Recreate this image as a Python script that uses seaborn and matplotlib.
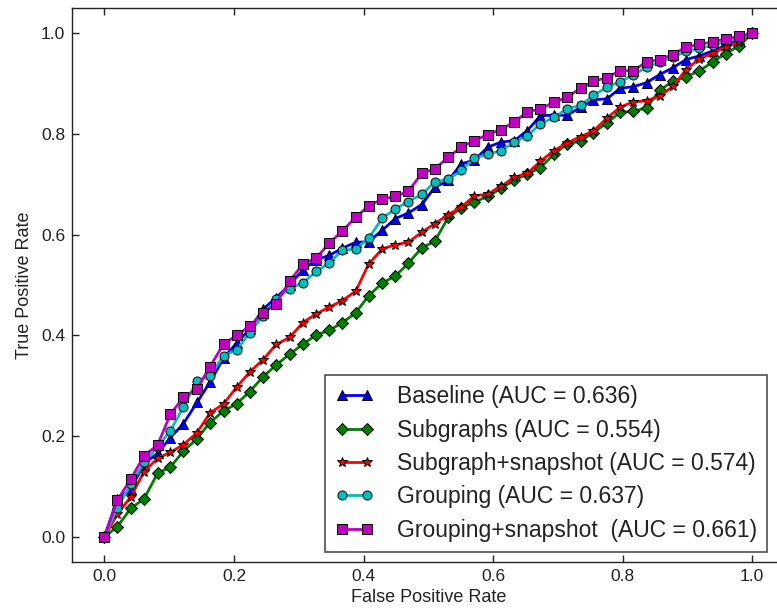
import matplotlib
matplotlib.use('Agg')
import matplotlib.pyplot as plt
import seaborn as sns

# false positive rate (shared by all curves)
fpr = [0.000, 0.020, 0.041, 0.061, 0.082, 0.102, 0.122, 0.143, 0.163, 0.184,
       0.204, 0.224, 0.245, 0.265, 0.286, 0.306, 0.327, 0.347, 0.367, 0.388,
       0.408, 0.429, 0.449, 0.469, 0.490, 0.510, 0.531, 0.551, 0.571, 0.592,
       0.612, 0.633, 0.653, 0.673, 0.694, 0.714, 0.735, 0.755, 0.776, 0.796,
       0.816, 0.837, 0.857, 0.878, 0.898, 0.918, 0.939, 0.959, 0.980, 1.000]

tpr_baseline = [0.000, 0.075, 0.095, 0.145, 0.166, 0.197, 0.225, 0.267, 0.307, 0.355,
                0.385, 0.412, 0.452, 0.475, 0.500, 0.530, 0.550, 0.559, 0.573, 0.585,
                0.586, 0.609, 0.632, 0.643, 0.660, 0.694, 0.708, 0.741, 0.748, 0.774,
                0.784, 0.787, 0.807, 0.836, 0.838, 0.837, 0.853, 0.868, 0.870, 0.891,
                0.894, 0.902, 0.918, 0.932, 0.948, 0.955, 0.965, 0.976, 0.988, 1.000]

tpr_subgraphs = [0.000, 0.020, 0.057, 0.075, 0.126, 0.139, 0.170, 0.195, 0.227, 0.250,
                 0.264, 0.288, 0.318, 0.341, 0.363, 0.382, 0.401, 0.410, 0.425, 0.445,
                 0.479, 0.504, 0.518, 0.543, 0.574, 0.587, 0.635, 0.653, 0.665, 0.676,
                 0.692, 0.708, 0.721, 0.733, 0.760, 0.780, 0.786, 0.803, 0.822, 0.843,
                 0.845, 0.852, 0.887, 0.905, 0.914, 0.925, 0.943, 0.960, 0.975, 1.000]

tpr_sub_snap = [0.000, 0.045, 0.080, 0.129, 0.156, 0.168, 0.183, 0.207, 0.246, 0.264,
                0.297, 0.327, 0.352, 0.382, 0.396, 0.425, 0.443, 0.456, 0.469, 0.488,
                0.542, 0.572, 0.580, 0.585, 0.605, 0.622, 0.640, 0.655, 0.677, 0.681,
                0.696, 0.714, 0.722, 0.746, 0.767, 0.782, 0.795, 0.806, 0.832, 0.853,
                0.864, 0.866, 0.875, 0.895, 0.928, 0.949, 0.961, 0.973, 0.983, 1.000]

tpr_grouping = [0.000, 0.058, 0.105, 0.148, 0.178, 0.211, 0.258, 0.309, 0.320, 0.360,
                0.371, 0.405, 0.439, 0.472, 0.493, 0.504, 0.527, 0.544, 0.569, 0.572,
                0.593, 0.633, 0.651, 0.666, 0.680, 0.705, 0.710, 0.728, 0.752, 0.760,
                0.767, 0.784, 0.797, 0.820, 0.833, 0.850, 0.857, 0.877, 0.893, 0.904,
                0.917, 0.933, 0.943, 0.953, 0.964, 0.970, 0.976, 0.984, 0.990, 1.000]

tpr_group_snap = [0.000, 0.073, 0.115, 0.161, 0.182, 0.244, 0.277, 0.294, 0.338, 0.383,
                  0.400, 0.418, 0.444, 0.463, 0.508, 0.541, 0.554, 0.583, 0.607, 0.635,
                  0.657, 0.671, 0.676, 0.686, 0.722, 0.731, 0.754, 0.774, 0.787, 0.799,
                  0.809, 0.824, 0.844, 0.850, 0.863, 0.873, 0.891, 0.905, 0.912, 0.926,
                  0.926, 0.943, 0.948, 0.958, 0.973, 0.978, 0.983, 0.989, 0.994, 1.000]

labels = ['Baseline (AUC = 0.636)',
          'Subgraphs (AUC = 0.554)',
          'Subgraph+snapshot (AUC = 0.574)',
          'Grouping (AUC = 0.637)',
          'Grouping+snapshot  (AUC = 0.661)']

curves = [tpr_baseline, tpr_subgraphs, tpr_sub_snap, tpr_grouping, tpr_group_snap]
colors = ['#0000ff', '#007f00', '#ff0000', '#00bfbf', '#bf00bf']
markers = ['^', 'D', '*', 'o', 's']
msizes = [7, 6, 7, 6.5, 7]

sns.set_style('ticks')
plt.rcParams['font.family'] = ['Liberation Sans', 'DejaVu Sans']

fig = plt.figure(figsize=(7.77, 6.16), dpi=100)
ax = fig.add_axes([0.0927, 0.0877, 0.917, 0.899])

for tpr, lab, c, m, ms in zip(curves, labels, colors, markers, msizes):
    sns.lineplot(x=fpr, y=tpr, ax=ax, color=c, marker=m, markersize=ms,
                 markeredgecolor='black', markeredgewidth=0.7, linewidth=2,
                 label=lab, sort=False, estimator=None)

ax.set_xlim(-0.05, 1.05)
ax.set_ylim(-0.05, 1.05)
ax.set_xticks([0.0, 0.2, 0.4, 0.6, 0.8, 1.0])
ax.set_yticks([0.0, 0.2, 0.4, 0.6, 0.8, 1.0])
ax.tick_params(direction='in', top=True, right=True, length=5, width=1,
               labelsize=12.5, pad=5, colors='#222222')
for sp in ax.spines.values():
    sp.set_color('#222222')
    sp.set_linewidth(1)

ax.set_xlabel('False Positive Rate', fontsize=13, color='#222222', labelpad=4)
ax.set_ylabel('True Positive Rate', fontsize=13, color='#222222', labelpad=6)

leg = ax.legend(loc='lower right', bbox_to_anchor=(0.9756, 0.018), borderaxespad=0,
                numpoints=2, handlelength=1.7, handletextpad=1.0, labelspacing=0.45,
                borderpad=0.45, fontsize=16.5, frameon=True, fancybox=False)
leg.get_frame().set_edgecolor('#222222')
leg.get_frame().set_linewidth(1.2)
for t in leg.get_texts():
    t.set_color('#222222')

fig.savefig('out.png', dpi=100)
